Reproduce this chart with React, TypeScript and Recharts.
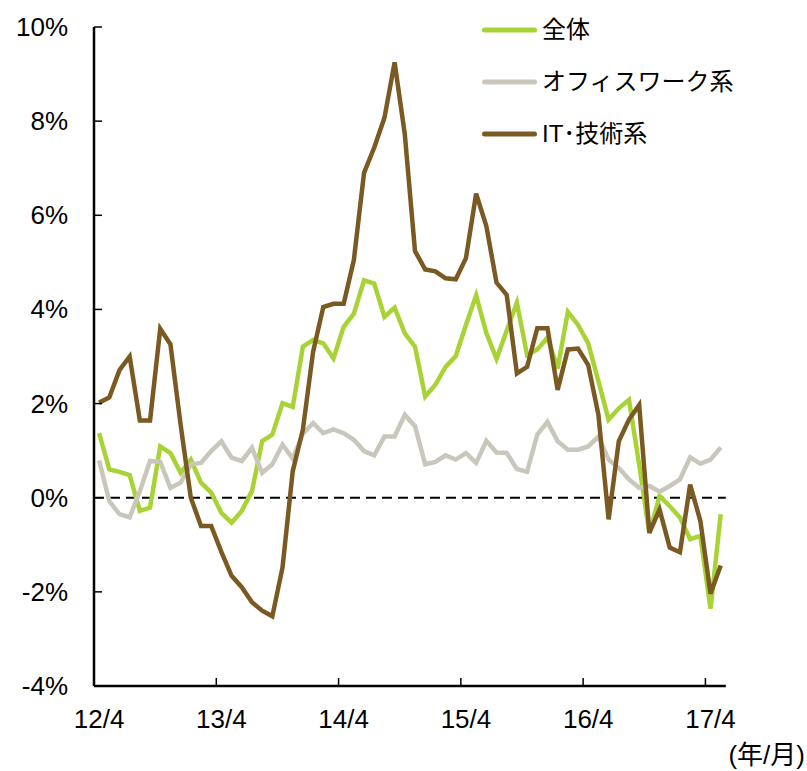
import { Legend, Line, LineChart, ReferenceLine, XAxis, YAxis } from "recharts";

// 月 (12/4 - 17/5)
const months = [
  "12/4", "12/5", "12/6", "12/7", "12/8", "12/9", "12/10", "12/11", "12/12", "13/1", "13/2", "13/3",
  "13/4", "13/5", "13/6", "13/7", "13/8", "13/9", "13/10", "13/11", "13/12", "14/1", "14/2", "14/3",
  "14/4", "14/5", "14/6", "14/7", "14/8", "14/9", "14/10", "14/11", "14/12", "15/1", "15/2", "15/3",
  "15/4", "15/5", "15/6", "15/7", "15/8", "15/9", "15/10", "15/11", "15/12", "16/1", "16/2", "16/3",
  "16/4", "16/5", "16/6", "16/7", "16/8", "16/9", "16/10", "16/11", "16/12", "17/1", "17/2", "17/3",
  "17/4", "17/5",
];

// 全体
const zentai = [
  1.37, 0.6, 0.55, 0.48, -0.28, -0.21, 1.09, 0.95, 0.53, 0.81, 0.32, 0.11,
  -0.32, -0.53, -0.28, 0.14, 1.2, 1.34, 2.01, 1.93, 3.21, 3.35, 3.28, 2.96,
  3.63, 3.91, 4.62, 4.55, 3.84, 4.04, 3.49, 3.21, 2.15, 2.4, 2.78, 3.01,
  3.67, 4.3, 3.5, 2.95, 3.55, 4.14, 3.03, 3.15, 3.4, 2.75, 3.95, 3.67,
  3.28, 2.47, 1.66, 1.9, 2.08, 0.7, -0.76, 0.04, -0.18, -0.42, -0.88, -0.81,
  -2.36, -0.35,
];

// オフィスワーク系
const office = [
  0.79, -0.07, -0.35, -0.42, 0.14, 0.78, 0.76, 0.21, 0.32, 0.71, 0.74, 0.99,
  1.2, 0.85, 0.78, 1.06, 0.53, 0.71, 1.13, 0.83, 1.36, 1.59, 1.37, 1.45,
  1.37, 1.23, 0.99, 0.9, 1.3, 1.3, 1.76, 1.52, 0.71, 0.76, 0.9, 0.81,
  0.95, 0.74, 1.21, 0.96, 0.95, 0.61, 0.55, 1.34, 1.61, 1.2, 1.02, 1.02,
  1.09, 1.3, 0.81, 0.63, 0.39, 0.21, 0.25, 0.13, 0.25, 0.39, 0.86, 0.72,
  0.81, 1.07,
];

// IT・技術系
const itTech = [
  2.02, 2.13, 2.71, 3.0, 1.64, 1.64, 3.59, 3.26, 1.55, 0.0, -0.6, -0.6,
  -1.15, -1.66, -1.9, -2.22, -2.4, -2.52, -1.48, 0.56, 1.45, 3.1, 4.05, 4.12,
  4.12, 5.05, 6.9, 7.44, 8.07, 9.25, 7.72, 5.24, 4.85, 4.81, 4.66, 4.64,
  5.09, 6.46, 5.77, 4.57, 4.31, 2.64, 2.78, 3.6, 3.6, 2.29, 3.15, 3.17,
  2.82, 1.76, -0.46, 1.2, 1.66, 1.97, -0.74, -0.25, -1.06, -1.16, 0.28, -0.49,
  -2.04, -1.44,
];

const yTicks = [-4, -2, 0, 2, 4, 6, 8, 10];

const data = months.map((m, i) => ({
  month: m,
  zentai: zentai[i],
  office: office[i],
  it: itTech[i],
}));

const series = [
  { key: "zentai", name: "全体", color: "#A8D336" },
  { key: "office", name: "オフィスワーク系", color: "#C9C7BC" },
  { key: "it", name: "IT･技術系", color: "#7A5A22" },
];

const FONT = '"Liberation Sans", Arial, "Noto Sans CJK JP", sans-serif';
const W = 807;
const H = 771;
const PLOT_LEFT = 94;
const PLOT_RIGHT = 725.8;
const PLOT_TOP = 27;
const PLOT_BOTTOM = 686;
const STEP = (PLOT_RIGHT - PLOT_LEFT) / months.length;

const YTick = (props: any) => {
  const { y, payload } = props;
  return (
    <g>
      <line x1={PLOT_LEFT} x2={PLOT_LEFT + 8} y1={y} y2={y} stroke="#000" strokeWidth={1.5} />
      <text x={PLOT_LEFT - 26} y={y} textAnchor="end" dominantBaseline="central"
        fontFamily={FONT} fontSize={26} fill="#000">
        {payload.value}%
      </text>
    </g>
  );
};

const XTick = (props: any) => {
  const { x, payload } = props;
  const bx = x - STEP / 2;
  return (
    <g>
      <line x1={bx} x2={bx} y1={PLOT_BOTTOM} y2={PLOT_BOTTOM - 8} stroke="#000" strokeWidth={1.5} />
      <text x={x} y={PLOT_BOTTOM + 42} textAnchor="middle" fontFamily={FONT} fontSize={26} fill="#000">
        {payload.value}
      </text>
    </g>
  );
};

const LegendBox = () => (
  <div style={{ fontFamily: FONT, fontSize: 24, color: "#000" }}>
    {series.map((s) => (
      <div key={s.key} style={{ display: "flex", alignItems: "center", height: 52 }}>
        <svg width={58} height={8}>
          <line x1={4.5} x2={54.5} y1={4} y2={4} stroke={s.color} strokeWidth={5} strokeLinecap="round" />
        </svg>
        <span style={{ marginLeft: 4, lineHeight: 1, whiteSpace: "nowrap" }}>{s.name}</span>
      </div>
    ))}
  </div>
);

export default function App() {
  return (
    <div style={{ position: "absolute", left: 0, top: 0, background: "#fff" }}>
      <LineChart
        width={W}
        height={H}
        data={data}
        margin={{ top: PLOT_TOP, right: W - PLOT_RIGHT, left: 0, bottom: H - PLOT_BOTTOM - 60 }}
      >
        <XAxis
          dataKey="month"
          height={60}
          interval={11}
          padding={{ left: STEP / 2, right: STEP / 2 }}
          axisLine={{ stroke: "#000", strokeWidth: 2.5 }}
          tickLine={false}
          tick={<XTick />}
          label={{
            content: () => (
              <text x={805} y={764} textAnchor="end" fontFamily={FONT} fontSize={26} fill="#000">
                (年/月)
              </text>
            ),
          }}
        />
        <YAxis
          width={PLOT_LEFT}
          domain={[-4, 10]}
          ticks={yTicks}
          interval={0}
          allowDataOverflow
          axisLine={{ stroke: "#000", strokeWidth: 2.5 }}
          tickLine={false}
          tick={<YTick />}
        />
        <ReferenceLine y={0} stroke="#000" strokeWidth={2} strokeDasharray="10 6" />
        <Legend
          layout="vertical"
          align="center"
          verticalAlign="middle"
          wrapperStyle={{ left: 480, top: 4, width: 300, right: "auto", bottom: "auto" }}
          content={<LegendBox />}
        />
        {series.map((s) => (
          <Line
            key={s.key}
            type="linear"
            dataKey={s.key}
            name={s.name}
            stroke={s.color}
            strokeWidth={4.5}
            dot={false}
            activeDot={false}
            isAnimationActive={false}
          />
        ))}
      </LineChart>
    </div>
  );
}
